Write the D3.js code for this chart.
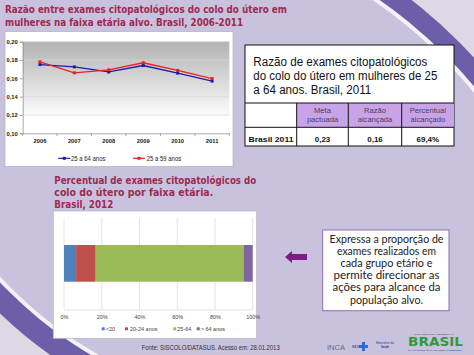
<!DOCTYPE html>
<html><head><meta charset="utf-8">
<script src="https://cdn.jsdelivr.net/npm/d3@7"></script>
<style>html,body{margin:0;padding:0;background:#c8c2df;}svg{display:block;}</style>
</head><body>
<script>
// ---- data ----
const years = ["2006","2007","2008","2009","2010","2011"];
const serie2564 = [0.175,0.1725,0.167,0.174,0.1657,0.157];
const serie2559 = [0.178,0.166,0.1693,0.177,0.1686,0.1597];
const seriesNames = ["25 a 64 anos","25 a 59 anos"];
const yTicks = [0.10,0.12,0.14,0.16,0.18,0.20];

const faixas = ["<20","20-24 anos","25-64","> 64 anos"];
const percentuais = [6.4,10.4,78.3,4.9];
const pctTicks = [0,20,40,60,80,100];

const tabelaTitulo = ["Razão de exames citopatológicos","do colo do útero em mulheres de 25","a 64 anos. Brasil, 2011"];
const tabelaCab = [["Meta","pactuada"],["Razão","alcançada"],["Percentual","alcançado"]];
const tabelaLinha = "Brasil 2011";
const tabelaValores = ["0,23","0,16","69,4%"];

const W=474,H=355;
const svg=d3.select("body").append("svg").attr("width",W).attr("height",H);
const defs=svg.append("defs");
const TITLE="#9e2a4e";

// ---- background ----
const cA=[100,400], cB=[300,0];
function clip(id,c,r){defs.append("clipPath").attr("id",id).append("circle").attr("cx",c[0]).attr("cy",c[1]).attr("r",r);}
clip("cA484",cA,484);clip("cB408",cB,408);
svg.append("rect").attr("width",W).attr("height",H).attr("fill","#dcd9e5");
svg.append("g").attr("clip-path","url(#cA484)").append("circle").attr("cx",cB[0]).attr("cy",cB[1]).attr("r",408).attr("fill","#c8c2df");
function ring(g,c,r0,r1,fill){g.append("path").attr("transform",`translate(${c})`).attr("d",d3.arc()({innerRadius:r0,outerRadius:r1,startAngle:0,endAngle:2*Math.PI})).attr("fill",fill);}
const gA=svg.append("g").attr("clip-path","url(#cB408)");
ring(gA,cA,484,488,"#f4f2f7");ring(gA,cA,488,507,"#6c5ea9");
const gB=svg.append("g").attr("clip-path","url(#cA484)");
ring(gB,cB,408,412,"#f4f2f7");ring(gB,cB,412,434,"#6c5ea9");

function fitText(g,txt,x,y,w,opt){
  const t=g.append("text").attr("x",x).attr("y",y).text(txt)
   .attr("font-family",opt.family||"DejaVu Sans").attr("font-size",opt.size)
   .attr("font-weight",opt.weight||"normal").attr("fill",opt.fill||"#000");
  if(w) t.attr("textLength",w).attr("lengthAdjust","spacingAndGlyphs");
  if(opt.anchor) t.attr("text-anchor",opt.anchor);
  return t;
}

// ---- top title ----
fitText(svg,"Razão entre exames citopatológicos do colo do útero  em",5,13,282,{size:11,weight:"bold",fill:TITLE});
fitText(svg,"mulheres na faixa etária alvo. Brasil, 2006-2011",5,26,238,{size:11,weight:"bold",fill:TITLE});

// ---- line chart ----
svg.append("rect").attr("x",5).attr("y",31.5).attr("width",228).attr("height",135).attr("fill","#fff").attr("stroke","#b8b4c8").attr("stroke-width",0.8);
const grad=defs.append("linearGradient").attr("id","pg").attr("x1",0).attr("x2",0).attr("y1",0).attr("y2",1);
grad.append("stop").attr("offset","0%").attr("stop-color","#b2b2b2");
grad.append("stop").attr("offset","85%").attr("stop-color","#ffffff");
const lx=d3.scaleBand().domain(years).range([22.7,229.3]);
const ly=d3.scaleLinear().domain([0.10,0.20]).range([133.3,41.7]);
svg.append("rect").attr("x",22.7).attr("y",41.7).attr("width",206.6).attr("height",91.6).attr("fill","url(#pg)");
svg.append("g").selectAll("line").data(yTicks.slice(1)).join("line")
  .attr("x1",22.7).attr("x2",229.3).attr("y1",d=>ly(d)).attr("y2",d=>ly(d)).attr("stroke","#d8d8d8").attr("stroke-width",0.6);
const fmt2=d=>d3.format(".2f")(d).replace(".",",");
const yAx=svg.append("g").attr("transform","translate(22.7,0)").call(d3.axisLeft(ly).tickValues(yTicks).tickFormat(fmt2).tickSize(3));
yAx.selectAll("text").attr("font-family","Liberation Sans").attr("font-size",5.8).attr("font-weight","bold").attr("fill","#222").attr("x",-5);
yAx.selectAll("line,path").attr("stroke","#888").attr("stroke-width",0.7);
const xAx=svg.append("g").attr("transform","translate(0,133.3)").call(d3.axisBottom(lx).tickSize(0).tickPadding(6));
xAx.selectAll("text").attr("font-family","Liberation Sans").attr("font-size",5.8).attr("font-weight","bold").attr("fill","#222");
xAx.selectAll("path").attr("stroke","#888").attr("stroke-width",0.7);
svg.append("g").selectAll("line").data(years).join("line").attr("x1",d=>lx(d)).attr("x2",d=>lx(d)).attr("y1",133.3).attr("y2",136).attr("stroke","#888").attr("stroke-width",0.7);
svg.append("line").attr("x1",229.3).attr("x2",229.3).attr("y1",133.3).attr("y2",136).attr("stroke","#888").attr("stroke-width",0.7);
const lineGen=d3.line().x((d,i)=>lx(years[i])+lx.bandwidth()/2).y(d=>ly(d));
const lineSeries=[{v:serie2564,c:"#1c1ca8"},{v:serie2559,c:"#e8202a"}];
lineSeries.forEach(s=>{
  svg.append("path").attr("d",lineGen(s.v)).attr("fill","none").attr("stroke",s.c).attr("stroke-width",1.3);
  svg.append("g").selectAll("rect").data(s.v).join("rect")
    .attr("x",(d,i)=>lx(years[i])+lx.bandwidth()/2-1.5).attr("y",d=>ly(d)-1.5).attr("width",3).attr("height",3).attr("fill",s.c);
});
// legend
[[58.3,71,lineSeries[0].c,seriesNames[0]],[133,146.7,lineSeries[1].c,seriesNames[1]]].forEach(([x0,tx,c,n])=>{
  svg.append("line").attr("x1",x0).attr("x2",x0+12).attr("y1",158.3).attr("y2",158.3).attr("stroke",c).attr("stroke-width",1.2);
  svg.append("rect").attr("x",x0+4.5).attr("y",156.8).attr("width",3).attr("height",3).attr("fill",c);
  fitText(svg,n,tx,160.5,34.5,{family:"Liberation Sans",size:6.3,fill:"#222"});
});

// ---- table ----
const T=svg.append("g");
T.append("rect").attr("x",245).attr("y",45).attr("width",209).attr("height",101).attr("fill","#fff").attr("stroke","#111").attr("stroke-width",1);
const tW=[174,184,118];
tabelaTitulo.forEach((s,i)=>fitText(T,s,253.3,66+i*13.8,tW[i],{family:"Liberation Sans",size:12.5,fill:"#111"}));
const colX=[296.7,348.3,401.7,454];
tabelaCab.forEach((h,i)=>{
  T.append("rect").attr("x",colX[i]).attr("y",103).attr("width",colX[i+1]-colX[i]).attr("height",24.3).attr("fill","#c9a3e8");
  h.forEach((s,j)=>fitText(T,s,(colX[i]+colX[i+1])/2,113+j*9.3,null,{family:"Liberation Sans",size:7.6,fill:"#4a3c5c",anchor:"middle"}));
  fitText(T,tabelaValores[i],(colX[i]+colX[i+1])/2,141.5,null,{family:"Liberation Sans",size:8,weight:"bold",fill:"#111",anchor:"middle"});
});
T.append("line").attr("x1",245).attr("x2",454).attr("y1",103).attr("y2",103).attr("stroke","#111").attr("stroke-width",1);
T.append("line").attr("x1",245).attr("x2",454).attr("y1",127.3).attr("y2",127.3).attr("stroke","#111").attr("stroke-width",1);
colX.slice(0,3).forEach(x=>T.append("line").attr("x1",x).attr("x2",x).attr("y1",103).attr("y2",146).attr("stroke","#111").attr("stroke-width",1));
fitText(T,tabelaLinha,248.5,141.5,45,{family:"Liberation Sans",size:8,weight:"bold",fill:"#111"});

// ---- bar chart ----
fitText(svg,"Percentual de exames citopatológicos do",54.3,184,202,{size:10.5,weight:"bold",fill:TITLE});
fitText(svg,"colo do útero por faixa etária.",54.3,196,159,{size:10.5,weight:"bold",fill:TITLE});
fitText(svg,"Brasil, 2012",54.3,208,59,{size:10.5,weight:"bold",fill:TITLE});
svg.append("rect").attr("x",53.3).attr("y",211).attr("width",203.4).attr("height",127.3).attr("fill","#fff").attr("stroke","#bbb").attr("stroke-width",0.8);
const bx=d3.scaleLinear().domain([0,100]).range([64,252.7]);
svg.append("g").selectAll("line").data(pctTicks).join("line").attr("x1",d=>bx(d)).attr("x2",d=>bx(d)).attr("y1",217.7).attr("y2",310).attr("stroke","#d9d9d9").attr("stroke-width",0.7);
svg.append("line").attr("x1",64).attr("x2",252.7).attr("y1",310).attr("y2",310).attr("stroke","#d9d9d9").attr("stroke-width",0.7);
const barColors=["#4f81bd","#c0504d","#9bbb59","#8064a2"];
let acc=0;
const segs=percentuais.map((p,i)=>{const s={x0:acc,x1:acc+p,c:barColors[i]};acc+=p;return s;});
svg.append("g").selectAll("rect").data(segs).join("rect").attr("x",d=>bx(d.x0)).attr("width",d=>bx(d.x1)-bx(d.x0)).attr("y",245).attr("height",36.7).attr("fill",d=>d.c);
const bAx=svg.append("g").attr("transform","translate(0,310)").call(d3.axisBottom(bx).tickValues(pctTicks).tickFormat(d=>d+"%").tickSize(0).tickPadding(5));
bAx.select("path").remove();
bAx.selectAll("text").attr("font-family","Liberation Sans").attr("font-size",5.5).attr("fill","#444");
const legX=[101.7,125,173.3,196.7];
faixas.forEach((f,i)=>{
  svg.append("rect").attr("x",legX[i]).attr("y",327.3).attr("width",3).attr("height",3).attr("fill",barColors[i]);
  fitText(svg,f,legX[i]+(i==1?5:4),331.2,null,{family:"Liberation Sans",size:5.5,fill:"#444"});
});

// ---- arrow + textbox ----
svg.append("path").attr("d","M285,257 L292,251 L292,254 L307,254 L307,260 L292,260 L292,263 Z").attr("fill","#7e1b86");
svg.append("rect").attr("x",322.7).attr("y",230).attr("width",126.3).attr("height",80.7).attr("fill","#fff").attr("stroke","#8e6fae").attr("stroke-width",1);
const boxLines=["Expressa a proporção de","exames realizados em","cada grupo etário e","permite direcionar as","ações para alcance da","população alvo."];
const boxW=[114,99,92,106,108,73];
boxLines.forEach((s,i)=>fitText(svg,s,386.5,243+i*12.1,boxW[i],{family:"Lato",size:11,fill:"#222",anchor:"middle"}));

// ---- footer ----
fitText(svg,"Fonte: SISCOLO/DATASUS. Acesso em: 28.01.2013",141.7,350,138,{family:"Liberation Sans",size:6.5,fill:"#333"});
fitText(svg,"INCA",327,350,18,{family:"Liberation Sans",size:7,fill:"#6a6a80"});
fitText(svg,"SUS",352,348,8,{family:"Liberation Serif",size:5,weight:"bold",fill:"#2a3a90"});
svg.append("path").attr("d","M362,342 h3 v3 h3 v3 h-3 v3 h-3 v-3 h-3 v-3 h3 Z").attr("fill","#2a6fcf");
fitText(svg,"Ministério da",376,344,18,{family:"Liberation Sans",size:3,fill:"#2a3a90"});
fitText(svg,"Saúde",381,348,8,{family:"Liberation Sans",size:3,weight:"bold",fill:"#2a3a90"});
fitText(svg,"GOVERNO FEDERAL",414,335,40,{family:"Liberation Sans",size:2.5,fill:"#555"});
fitText(svg,"BRASIL",408,346,55,{family:"DejaVu Sans",size:12,weight:"bold",fill:"#2f9a3a"});
fitText(svg,"PAÍS RICO É PAÍS SEM POBREZA",408,350.5,55,{family:"Liberation Sans",size:2.5,fill:"#2a3a90"});
</script>
</body></html>
